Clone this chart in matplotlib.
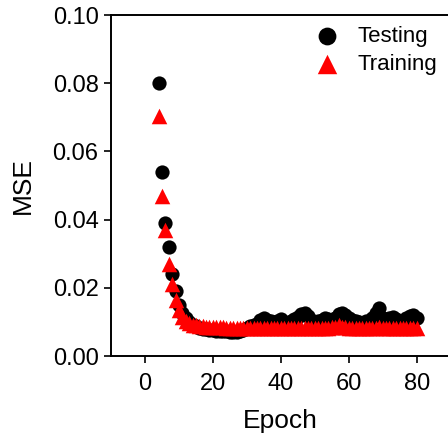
import numpy as np
import matplotlib
matplotlib.use("Agg")
import matplotlib.pyplot as plt

plt.rcParams['font.family'] = ['Liberation Sans', 'DejaVu Sans']

# MSE per epoch
epochs = list(range(4, 81))

testing_mse = [
    0.0800, 0.0540, 0.0390, 0.0320, 0.0240, 0.0190, 0.0150, 0.0125, 0.0110, 0.0100,
    0.0092, 0.0087, 0.0083, 0.0080, 0.0078, 0.0076, 0.0075, 0.0074, 0.0073, 0.0072,
    0.0072, 0.0071, 0.0070, 0.0071, 0.0072, 0.0076, 0.0082, 0.0088, 0.0090, 0.0095,
    0.0105, 0.0110, 0.0105, 0.0102, 0.0100, 0.0104, 0.0108, 0.0100, 0.0098, 0.0103,
    0.0108, 0.0115, 0.0122, 0.0126, 0.0118, 0.0105, 0.0098, 0.0102, 0.0106, 0.0110,
    0.0108, 0.0100, 0.0112, 0.0124, 0.0125, 0.0120, 0.0110, 0.0105, 0.0102, 0.0100,
    0.0098, 0.0104, 0.0102, 0.0110, 0.0125, 0.0140, 0.0112, 0.0106, 0.0110, 0.0114,
    0.0108, 0.0100, 0.0104, 0.0110, 0.0118, 0.0120, 0.0110,
]

training_mse = [
    0.0705, 0.0470, 0.0370, 0.0270, 0.0210, 0.0165, 0.0135, 0.0115, 0.0103, 0.0096,
    0.0092, 0.0090, 0.0088, 0.0087, 0.0086, 0.0085, 0.0085, 0.0084, 0.0084, 0.0084,
    0.0083, 0.0083, 0.0083, 0.0083, 0.0083, 0.0083, 0.0083, 0.0083, 0.0083, 0.0083,
    0.0083, 0.0083, 0.0083, 0.0082, 0.0083, 0.0083, 0.0082, 0.0082, 0.0083, 0.0082,
    0.0082, 0.0082, 0.0082, 0.0082, 0.0082, 0.0082, 0.0082, 0.0082, 0.0082, 0.0082,
    0.0082, 0.0084, 0.0086, 0.0090, 0.0086, 0.0084, 0.0083, 0.0083, 0.0083, 0.0082,
    0.0082, 0.0082, 0.0082, 0.0082, 0.0083, 0.0084, 0.0083, 0.0082, 0.0082, 0.0082,
    0.0082, 0.0082, 0.0082, 0.0082, 0.0082, 0.0082, 0.0082,
]

x_ticks = [0, 20, 40, 60, 80]
y_ticks = [0.00, 0.02, 0.04, 0.06, 0.08, 0.10]

fig = plt.figure(figsize=(4.48, 4.40), dpi=100)
ax = fig.add_axes([111 / 448, 84 / 440, 339.6 / 448, 341 / 440])

ax.scatter(epochs, testing_mse, s=105, marker='o', color='black',
           linewidths=0, label='Testing', zorder=2)
ax.scatter(epochs, training_mse, s=125, marker='^', color='#ff0000',
           linewidths=0, label='Training', zorder=3)

ax.set_xlim(-10, 90)
ax.set_ylim(0, 0.10)
ax.set_xticks(x_ticks)
ax.set_yticks(y_ticks)
ax.set_yticklabels([f"{v:.2f}" for v in y_ticks])

for sp in ax.spines.values():
    sp.set_linewidth(1.4)
ax.tick_params(direction='out', length=5, width=1.2, labelsize=17, pad=4)
ax.tick_params(axis='x', pad=7)

ax.set_xlabel('Epoch', fontsize=19, labelpad=10)
ax.set_ylabel('MSE', fontsize=19, labelpad=13)

ax.legend(loc='upper right', bbox_to_anchor=(446 / 448, 423 / 440),
          bbox_transform=fig.transFigure, frameon=False, fontsize=16,
          markerscale=1.25, handletextpad=0.35, labelspacing=0.3,
          borderaxespad=0)

fig.savefig('out.png', dpi=100)
